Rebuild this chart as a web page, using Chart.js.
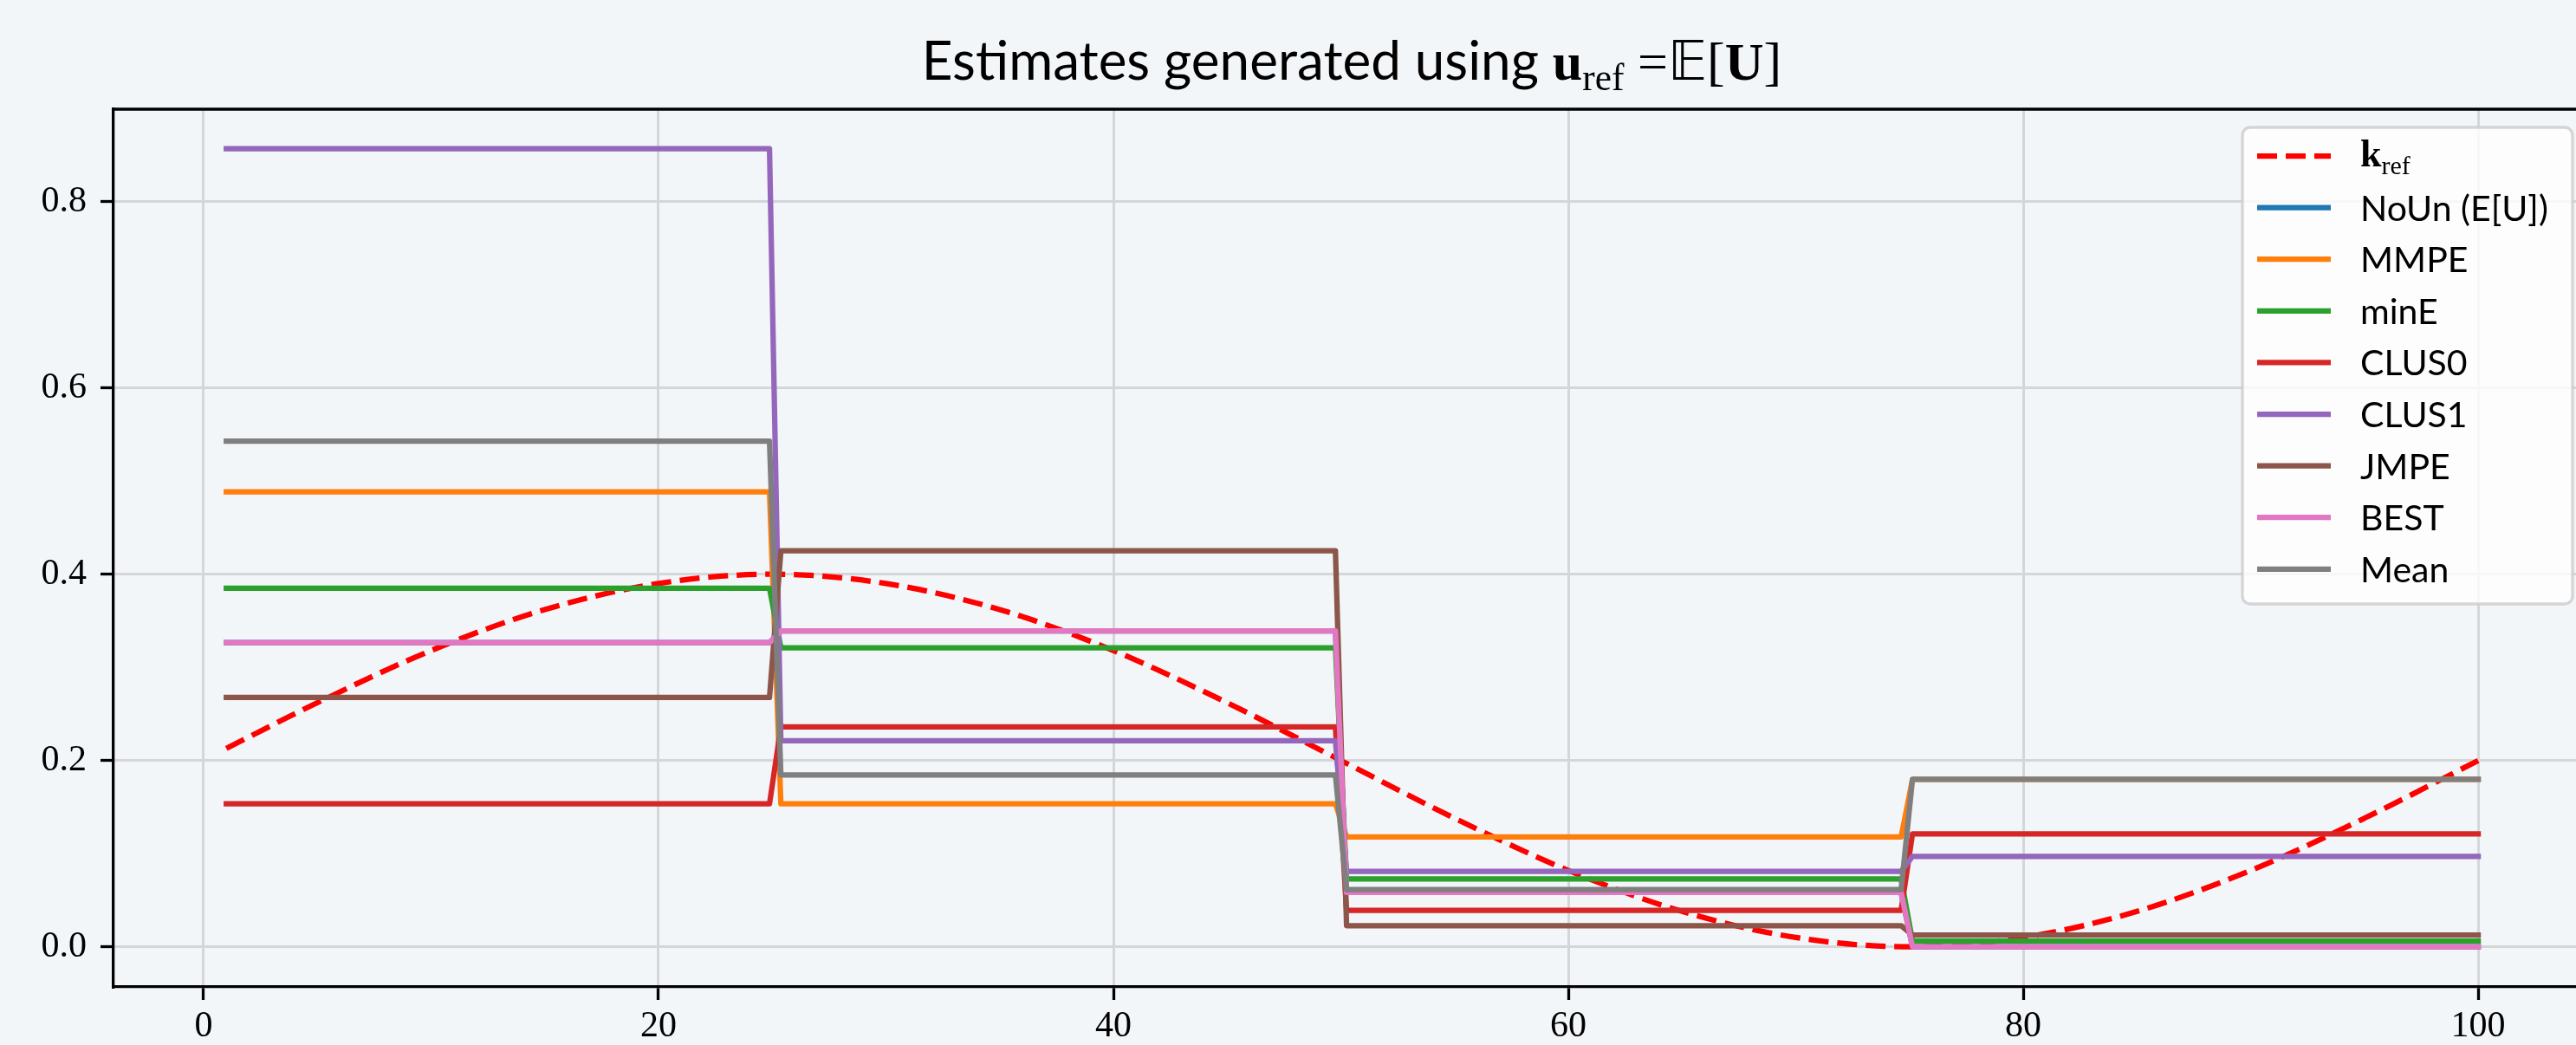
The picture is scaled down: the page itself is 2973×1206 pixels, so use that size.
<!DOCTYPE html>
<html>
<head>
<meta charset="utf-8">
<script src="https://cdn.jsdelivr.net/npm/chart.js@4.4.1/dist/chart.umd.min.js"></script>
<style>
  html, body { margin: 0; padding: 0; background: #f3f6f9; }
  canvas { display: block; }
</style>
</head>
<body>
<canvas id="myChart" width="2973" height="1206"></canvas>
<script>
// segment boundaries of the piecewise-constant estimates
const segStart = [1, 25.38, 50.25, 75.13];
const segEnd = [24.88, 49.76, 74.63, 100];

// reference field k_ref
const kRefX = [1, 5, 10, 15, 20, 25, 30, 35, 40, 45, 50, 55, 60, 65, 70, 75, 80, 85, 90, 95, 100];
const kRefY = [0.213, 0.262, 0.318, 0.362, 0.390, 0.400, 0.390, 0.362, 0.318, 0.262, 0.200,
               0.138, 0.082, 0.038, 0.010, 0.000, 0.010, 0.038, 0.082, 0.138, 0.200];

// one level per segment
const nounVals  = [0.3265, 0.339, 0.0583, 0.0];
const mmpeVals  = [0.4884, 0.1535, 0.1179, 0.1799];
const mineVals  = [0.3848, 0.3209, 0.0729, 0.0062];
const clus0Vals = [0.1535, 0.236, 0.0391, 0.1213];
const clus1Vals = [0.8567, 0.2211, 0.0809, 0.0971];
const jmpeVals  = [0.2676, 0.4251, 0.0227, 0.0127];
const bestVals  = [0.3265, 0.339, 0.0583, 0.0];
const meanVals  = [0.5427, 0.1845, 0.0614, 0.1799];

const seriesNames = ["NoUn (E[U])", "MMPE", "minE", "CLUS0", "CLUS1", "JMPE", "BEST", "Mean"];
const seriesValues = [nounVals, mmpeVals, mineVals, clus0Vals, clus1Vals, jmpeVals, bestVals, meanVals];
const seriesColors = ["#1f77b4", "#ff7f0e", "#2ca02c", "#d62728", "#9467bd", "#8c564b", "#e377c2", "#7f7f7f"];

const xTicks = [0, 20, 40, 60, 80, 100];
const yTicks = [0, 0.2, 0.4, 0.6, 0.8];

const BG = "#f3f6f9";
const LW = 6.25;
const SERIF = "'Liberation Serif', 'DejaVu Serif', serif";
const SANS = "Lato, 'DejaVu Sans', sans-serif";

function stepPoints(levels) {
  const pts = [];
  levels.forEach((v, i) => {
    pts.push({ x: segStart[i], y: v });
    pts.push({ x: segEnd[i], y: v });
  });
  return pts;
}

const datasets = [
  {
    label: "k_ref",
    data: kRefX.map((x, i) => ({ x: x, y: kRefY[i] })),
    borderColor: "#ff0000",
    borderWidth: LW,
    borderDash: [23, 10],
    borderCapStyle: "butt",
    cubicInterpolationMode: "monotone",
    pointRadius: 0,
    order: 20,
  },
];
seriesNames.forEach((name, i) => {
  datasets.push({
    label: name,
    data: stepPoints(seriesValues[i]),
    borderColor: seriesColors[i],
    borderWidth: LW,
    borderJoinStyle: "round",
    borderCapStyle: "square",
    pointRadius: 0,
    tension: 0,
    order: 10 - i,
  });
});

// draw mixed font text (title, legend label with subscript)
function drawRich(ctx, parts, x, y, align) {
  let total = 0;
  parts.forEach((p) => {
    ctx.font = p.f;
    p.w = ctx.measureText(p.t).width;
    total += p.w;
  });
  let cx = align === "center" ? x - total / 2 : x;
  ctx.textBaseline = "alphabetic";
  ctx.textAlign = "left";
  parts.forEach((p) => {
    ctx.font = p.f;
    ctx.fillText(p.t, cx, y + (p.dy || 0));
    cx += p.w;
  });
}

const bgPlugin = {
  id: "bg",
  beforeDraw(chart) {
    const ctx = chart.ctx;
    ctx.save();
    ctx.fillStyle = BG;
    ctx.fillRect(0, 0, chart.width, chart.height);
    ctx.restore();
  },
};

const framePlugin = {
  id: "frame",
  afterDatasetsDraw(chart) {
    const ctx = chart.ctx;
    const a = chart.chartArea;
    ctx.save();
    ctx.strokeStyle = "#000";
    ctx.lineWidth = 3.3;
    ctx.beginPath();
    ctx.moveTo(a.left - 1.6, a.top);
    ctx.lineTo(a.right, a.top);
    ctx.stroke();
    ctx.restore();
  },
};

const titlePlugin = {
  id: "mathTitle",
  afterDraw(chart) {
    const ctx = chart.ctx;
    const T = 62;
    ctx.save();
    ctx.fillStyle = "#000";
    drawRich(ctx, [
      { t: "Estimates generated using ", f: `${T}px ${SANS}` },
      { t: "u", f: `bold ${T}px ${SERIF}` },
      { t: "ref", f: `${T * 0.7}px ${SERIF}`, dy: T * 0.2 },
      { t: " =", f: `${T}px ${SERIF}` },
      { t: "\u{1D53C}", f: `${T}px 'DejaVu Sans', ${SERIF}` },
      { t: "[", f: `${T}px ${SERIF}` },
      { t: "U", f: `bold ${T}px ${SERIF}` },
      { t: "]", f: `${T}px ${SERIF}` },
    ], 1560, 92, "center");
    ctx.restore();
  },
};

const legendPlugin = {
  id: "boxLegend",
  afterDraw(chart) {
    const ctx = chart.ctx;
    const x0 = 2588, y0 = 147, w = 381, h = 550, r = 9;
    ctx.save();
    ctx.beginPath();
    ctx.roundRect(x0, y0, w, h, r);
    ctx.fillStyle = "rgba(255,255,255,0.8)";
    ctx.fill();
    ctx.lineWidth = 3.3;
    ctx.strokeStyle = "rgba(204,204,204,0.8)";
    ctx.stroke();

    const hx0 = 2605, hx1 = 2690, tx = 2724;
    chart.data.datasets.forEach((ds, i) => {
      const cy = 180 + i * 59.6;
      ctx.beginPath();
      ctx.setLineDash(ds.borderDash || []);
      ctx.lineCap = ds.borderDash ? "butt" : "butt";
      ctx.strokeStyle = ds.borderColor;
      ctx.lineWidth = LW;
      ctx.moveTo(hx0, cy);
      ctx.lineTo(hx1, cy);
      ctx.stroke();
      ctx.setLineDash([]);
      ctx.fillStyle = "#000";
      if (i === 0) {
        drawRich(ctx, [
          { t: "k", f: `bold 44px ${SERIF}` },
          { t: "ref", f: `30px ${SERIF}`, dy: 9 },
        ], tx, cy + 12, "left");
      } else {
        ctx.font = `41px ${SANS}`;
        ctx.textAlign = "left";
        ctx.textBaseline = "alphabetic";
        ctx.fillText(ds.label, tx, cy + 15);
      }
    });
    ctx.restore();
  },
};

const config = {
  type: "line",
  data: { datasets },
  options: {
    responsive: false,
    devicePixelRatio: 1,
    animation: false,
    layout: { padding: { top: 126, right: 0, bottom: 0, left: 0 } },
    plugins: {
      legend: { display: false },
      title: { display: false },
      tooltip: { enabled: false },
    },
    scales: {
      x: {
        type: "linear",
        min: -3.96,
        max: 104.3,
        afterBuildTicks(scale) {
          scale.ticks = xTicks.map((v) => ({ value: v }));
        },
        afterFit(scale) {
          scale.height = 67;
        },
        grid: {
          color: "#d4d6d9",
          lineWidth: 3,
          tickColor: "#000",
          tickWidth: 3.3,
          tickLength: 15,
        },
        border: { color: "#000", width: 3.3 },
        ticks: {
          color: "#000",
          font: { family: SERIF, size: 42 },
          padding: 6,
          maxRotation: 0,
          callback: (v) => String(v),
        },
      },
      y: {
        type: "linear",
        min: -0.0431,
        max: 0.8992,
        afterBuildTicks(scale) {
          scale.ticks = yTicks.map((v) => ({ value: v }));
        },
        afterFit(scale) {
          scale.width = 131;
        },
        grid: {
          color: "#d4d6d9",
          lineWidth: 3,
          tickColor: "#000",
          tickWidth: 3.3,
          tickLength: 15,
        },
        border: { color: "#000", width: 3.3 },
        ticks: {
          color: "#000",
          font: { family: SERIF, size: 42 },
          padding: 16,
          callback: (v) => v.toFixed(1),
        },
      },
    },
  },
  plugins: [bgPlugin, framePlugin, titlePlugin, legendPlugin],
};

new Chart(document.getElementById("myChart"), config);
</script>
</body>
</html>
